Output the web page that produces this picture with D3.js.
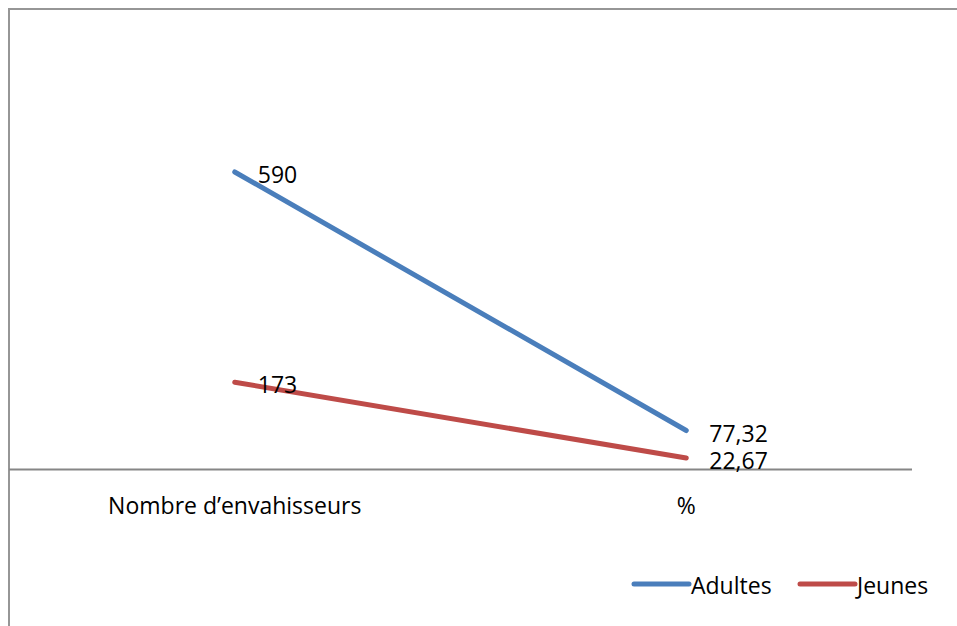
<!DOCTYPE html>
<html><head><meta charset="utf-8">
<script src="https://cdn.jsdelivr.net/npm/d3@7"></script>
<style>body{margin:0;background:#fff}svg{display:block}</style>
</head><body>
<svg id="c" width="957" height="626"></svg>
<script>
const categories = ["Nombre d\u2019envahisseurs", "%"];
const adultes = [590, 77.32];
const jeunes = [173, 22.67];
const labelsAdultes = ["590", "77,32"];
const labelsJeunes = ["173", "22,67"];
const seriesNames = ["Adultes", "Jeunes"];
const colors = ["#4a7ebb", "#be4b48"];

const svg = d3.select("#c");
const font = "'Open Sans', sans-serif";
const fs = "23px";

svg.append("rect").attr("x", 9).attr("y", 9).attr("width", 1000).attr("height", 700)
  .attr("fill", "#fff").attr("stroke", "#969696").attr("stroke-width", 2);

const x = d3.scaleBand().domain(categories).range([9, 912]);
const y = d3.scaleLinear().domain([0, 700]).range([469.5, 116.5]);

// baseline axis
svg.append("line").attr("x1", 9).attr("x2", 912).attr("y1", y(0)).attr("y2", y(0))
  .attr("stroke", "#868686").attr("stroke-width", 2);

svg.selectAll("text.cat").data(categories).enter().append("text")
  .attr("x", d => x(d) + x.bandwidth() / 2).attr("y", 505)
  .attr("text-anchor", "middle").attr("dominant-baseline", "central")
  .style("font-family", font).style("font-size", fs).attr("fill", "#000")
  .text(d => d);

const series = [
  {name: seriesNames[0], values: adultes, labels: labelsAdultes, color: colors[0]},
  {name: seriesNames[1], values: jeunes, labels: labelsJeunes, color: colors[1]}
];
const line = d3.line().x((d, i) => x(categories[i]) + x.bandwidth() / 2).y(d => y(d));

series.forEach(s => {
  svg.append("path").attr("d", line(s.values)).attr("fill", "none")
    .attr("stroke", s.color).attr("stroke-width", 5).attr("stroke-linecap", "round");
});
series.forEach(s => {
  svg.selectAll(null).data(s.values).enter().append("text")
    .attr("x", (d, i) => x(categories[i]) + x.bandwidth() / 2 + 23)
    .attr("y", d => y(d) + 2)
    .attr("dominant-baseline", "central")
    .style("font-family", font).style("font-size", fs).attr("fill", "#000")
    .text((d, i) => s.labels[i]);
});

// legend
const legX = [634, 800];
series.forEach((s, i) => {
  const g = svg.append("g");
  g.append("line").attr("x1", legX[i]).attr("x2", legX[i] + 55).attr("y1", 584).attr("y2", 584)
    .attr("stroke", s.color).attr("stroke-width", 5).attr("stroke-linecap", "round");
  g.append("text").attr("x", legX[i] + 57).attr("y", 585).attr("dominant-baseline", "central")
    .style("font-family", font).style("font-size", fs).attr("fill", "#000").text(s.name);
});
</script>
</body></html>
